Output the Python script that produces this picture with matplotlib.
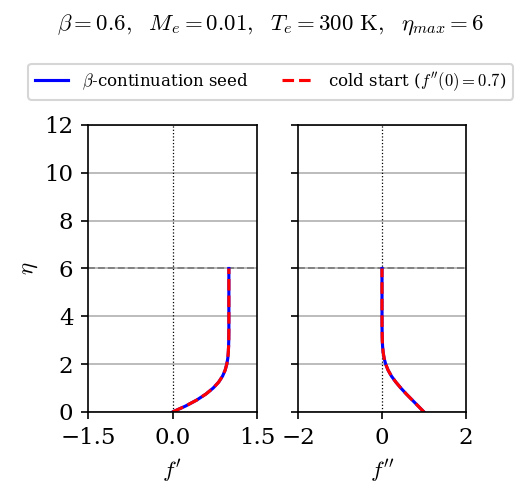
import numpy as np
import matplotlib
matplotlib.use("Agg")
import matplotlib.pyplot as plt

plt.rcParams["font.family"] = "serif"
plt.rcParams["font.serif"] = ["DejaVu Serif"]
plt.rcParams["mathtext.fontset"] = "cm"

# ── Data ─────────────────────────────────────────────────────────────────────
eta = [0.0, 0.25, 0.5, 0.75, 1.0, 1.25, 1.5, 1.75, 2.0, 2.25, 2.5, 2.75,
       3.0, 3.5, 4.0, 5.0, 6.0]

# beta-continuation seed
fp_seed = [0.0, 0.232, 0.430, 0.592, 0.721, 0.819, 0.888, 0.934, 0.963,
           0.981, 0.990, 0.995, 0.998, 1.0, 1.0, 1.0, 1.0]
fpp_seed = [1.0, 0.86, 0.72, 0.58, 0.45, 0.33, 0.225, 0.145, 0.088, 0.05,
            0.027, 0.014, 0.007, 0.0015, 0.0003, 0.0, 0.0]

# cold start (f''(0) = 0.7) converges to the same profile
fp_cold = [0.0, 0.232, 0.430, 0.592, 0.721, 0.819, 0.888, 0.934, 0.963,
           0.981, 0.990, 0.995, 0.998, 1.0, 1.0, 1.0, 1.0]
fpp_cold = [1.0, 0.86, 0.72, 0.58, 0.45, 0.33, 0.225, 0.145, 0.088, 0.05,
            0.027, 0.014, 0.007, 0.0015, 0.0003, 0.0, 0.0]

eta_max = 6

# ── Figure ───────────────────────────────────────────────────────────────────
fig = plt.figure(figsize=(529 / 150, 498 / 150), dpi=150)
ax1 = fig.add_axes([0.1664, 0.1727, 0.3195, 0.5763])
ax2 = fig.add_axes([0.5633, 0.1727, 0.3176, 0.5763], sharey=ax1)

panels = [
    (ax1, fp_seed, fp_cold, r"$f'$", (-1.5, 1.5), [-1.5, 0.0, 1.5], ["\u22121.5", "0.0", "1.5"]),
    (ax2, fpp_seed, fpp_cold, r"$f''$", (-2, 2), [-2, 0, 2], ["\u22122", "0", "2"]),
]

for ax, seed, cold, xlabel, xlim, xt, xtl in panels:
    ax.grid(axis="y", color="#b0b0b0", lw=0.8)
    ax.axvline(0, color="black", lw=0.6, ls=":")
    ax.axhline(eta_max, color="gray", lw=0.9, ls="--")
    l1, = ax.plot(seed, eta, color="blue", lw=1.5, label=r"$\beta$-continuation seed")
    l2, = ax.plot(cold, eta, color="red", lw=1.5, ls="--", label=r"cold start ($f''(0)=0.7$)")
    ax.set_xlim(*xlim)
    ax.set_xticks(xt)
    ax.set_xticklabels(xtl)
    ax.set_xlabel(xlabel, fontsize=11, labelpad=4)
    ax.set_ylim(0, 12)
    ax.set_yticks(range(0, 13, 2))
    ax.tick_params(labelsize=11)
    ax.set_axisbelow(True)

ax1.set_ylabel(r"$\eta$", fontsize=11, labelpad=2)
plt.setp(ax2.get_yticklabels(), visible=False)

fig.suptitle(r"$\beta = 0.6,\ \ M_e = 0.01,\ \ T_e = 300\ \mathrm{K},\ \ \eta_{max} = 6$",
             fontsize=11, x=0.512, y=0.975)
fig.legend(handles=[l1, l2], loc="center", bbox_to_anchor=(0.512, 0.836), ncol=2,
           fontsize=8, frameon=True, columnspacing=2.0, handlelength=2.0)

plt.savefig("out.png", dpi=150)
